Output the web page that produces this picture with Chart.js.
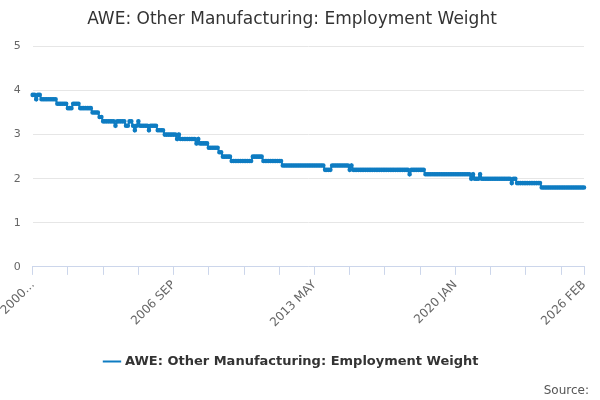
<!DOCTYPE html>
<html><head><meta charset="utf-8">
<script src="https://cdn.jsdelivr.net/npm/chart.js@4"></script>
<style>
body{margin:0;background:#fff;font-family:"DejaVu Sans",sans-serif;}
#wrap{position:relative;width:600px;height:400px;}
#src{position:absolute;right:11px;bottom:3px;font-size:12px;color:#555;}
</style></head><body>
<div id="wrap"><canvas id="c" width="600" height="400"></canvas><div id="src">Source:</div></div>
<script>
// monthly series from 2000 JAN, stored as runs
const levels = [3.9,3.8,3.9,3.8,3.7,3.6,3.7,3.6,3.5,3.4,3.3,3.2,3.3,3.2,3.3,3.2,3.1,3.2,3.3,3.2,3.1,3.2,3.1,3.0,2.9,3.0,2.9,2.8,2.9,2.8,2.7,2.6,2.5,2.4,2.5,2.4,2.3,2.2,2.3,2.2,2.3,2.2,2.1,2.2,2.1,2.0,2.1,2.0,2.1,2.0,1.9,2.0,1.9,1.8];
const runs   = [2,1,2,9,6,3,4,7,4,2,7,1,5,2,2,1,1,1,1,5,1,4,4,7,1,1,9,1,1,5,6,2,5,12,6,11,24,4,10,1,1,32,1,8,26,1,1,3,1,17,1,2,14,25];
const months = ["JAN","FEB","MAR","APR","MAY","JUN","JUL","AUG","SEP","OCT","NOV","DEC"];
const startYear = 2000;
const seriesName = "AWE: Other Manufacturing: Employment Weight";

const values = [];
levels.forEach((v,i) => { for(let k=0;k<runs[i];k++) values.push(v); });
const labels = values.map((_,i) => (startYear + Math.floor(i/12)) + " " + months[i%12]);
const last = labels.length - 1;
const isTick = i => i % 20 === 0 || i === last;

new Chart(document.getElementById("c"),{
  type:"line",
  data:{labels, datasets:[{
    label:seriesName, data:values,
    borderColor:"#0e7cc2", backgroundColor:"#0e7cc2",
    borderWidth:2, pointRadius:1.3, pointHoverRadius:2, tension:0
  }]},
  options:{
    responsive:false, animation:false,
    layout:{padding:{left:0,right:16,top:0,bottom:22}},
    plugins:{
      title:{display:true,text:"AWE: Other Manufacturing: Employment Weight",color:"#333",
        font:{family:"DejaVu Sans",size:17,weight:"normal"},padding:{top:9,bottom:17}},
      legend:{position:"bottom",labels:{usePointStyle:true,pointStyle:"line",color:"#333",
        font:{family:"DejaVu Sans",size:13,weight:"bold"},padding:22}}
    },
    scales:{
      x:{
        grid:{drawOnChartArea:false,tickLength:8,color:c=>isTick(c.index)?"#ccd6eb":"transparent"},
        border:{color:"#ccd6eb"},
        ticks:{autoSkip:false,maxRotation:45,minRotation:45,color:"#666",font:{family:"DejaVu Sans",size:12},
          callback:(v,i)=> i===0 ? "2000..." : (i%80===0 || i===last ? labels[i] : "")}
      },
      y:{min:0,max:5,
        grid:{color:"#e6e6e6",drawTicks:false},
        border:{display:false},
        ticks:{stepSize:1,color:"#666",padding:12,font:{family:"DejaVu Sans",size:11}}
      }
    }
  }
});
</script></body></html>
